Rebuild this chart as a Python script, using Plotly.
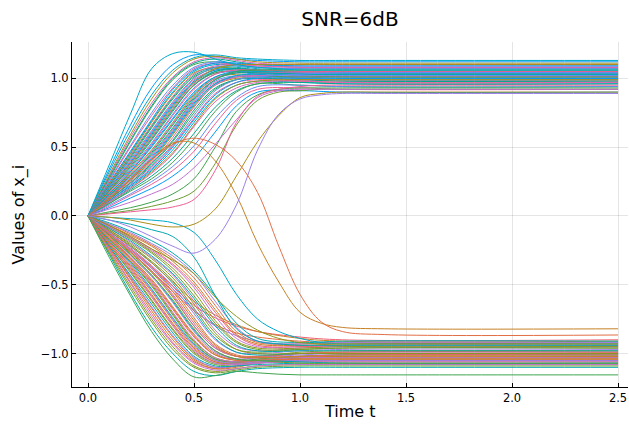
import plotly.graph_objects as go

# Time knots for the bulk trajectories and for the hand-traced individual ones
T_BULK = [0.0, 0.1, 0.2, 0.3, 0.4, 0.5, 0.6, 0.7, 0.8, 1.0, 1.2, 2.5]
T_FINE = [0.0, 0.1, 0.2, 0.3, 0.4, 0.5, 0.6, 0.7, 0.8, 0.9, 1.0, 1.1, 1.2, 1.4, 2.5]

# Trajectories converging to +1 (values at T_BULK)
UPPER_PATHS = [
    [0, .34, .66, .93, 1.10, 1.17, 1.16, 1.14, 1.13, 1.12, 1.12, 1.12],
    [0, .32, .62, .88, 1.06, 1.15, 1.17, 1.15, 1.14, 1.13, 1.13, 1.13],
    [0, .30, .59, .85, 1.04, 1.14, 1.16, 1.14, 1.12, 1.11, 1.11, 1.11],
    [0, .29, .57, .82, 1.01, 1.12, 1.15, 1.13, 1.11, 1.10, 1.10, 1.10],
    [0, .28, .55, .80, 1.00, 1.11, 1.14, 1.12, 1.10, 1.08, 1.08, 1.08],
    [0, .27, .54, .79, .99, 1.10, 1.12, 1.10, 1.08, 1.07, 1.07, 1.07],
    [0, .26, .51, .75, .95, 1.08, 1.12, 1.11, 1.10, 1.09, 1.09, 1.09],
    [0, .25, .50, .73, .93, 1.07, 1.11, 1.10, 1.09, 1.08, 1.08, 1.08],
    [0, .24, .47, .70, .92, 1.06, 1.11, 1.11, 1.10, 1.09, 1.09, 1.09],
    [0, .23, .46, .69, .90, 1.05, 1.10, 1.09, 1.07, 1.06, 1.06, 1.06],
    [0, .23, .45, .68, .89, 1.04, 1.08, 1.07, 1.05, 1.04, 1.04, 1.04],
    [0, .22, .44, .66, .87, 1.03, 1.09, 1.10, 1.09, 1.08, 1.08, 1.08],
    [0, .22, .43, .65, .86, 1.02, 1.08, 1.08, 1.06, 1.05, 1.05, 1.05],
    [0, .21, .42, .64, .85, 1.01, 1.07, 1.07, 1.05, 1.03, 1.03, 1.03],
    [0, .21, .41, .62, .83, 1.00, 1.08, 1.09, 1.08, 1.07, 1.07, 1.07],
    [0, .20, .40, .61, .82, .99, 1.06, 1.06, 1.04, 1.02, 1.02, 1.02],
    [0, .20, .39, .60, .81, .98, 1.06, 1.07, 1.06, 1.04, 1.04, 1.04],
    [0, .19, .38, .59, .80, .97, 1.05, 1.06, 1.05, 1.03, 1.03, 1.03],
    [0, .19, .38, .58, .79, .97, 1.07, 1.10, 1.10, 1.10, 1.10, 1.10],
    [0, .18, .37, .57, .78, .96, 1.04, 1.05, 1.03, 1.01, 1.01, 1.01],
    [0, .18, .36, .56, .77, .95, 1.05, 1.07, 1.06, 1.05, 1.05, 1.05],
    [0, .18, .35, .55, .76, .95, 1.04, 1.05, 1.04, 1.02, 1.01, 1.01],
    [0, .17, .34, .53, .74, .93, 1.03, 1.05, 1.04, 1.02, 1.02, 1.02],
    [0, .17, .33, .52, .73, .92, 1.03, 1.06, 1.06, 1.05, 1.05, 1.05],
    [0, .16, .32, .51, .71, .90, 1.01, 1.04, 1.03, 1.00, .99, .99],
    [0, .16, .32, .50, .70, .89, 1.01, 1.05, 1.05, 1.04, 1.04, 1.04],
    [0, .15, .31, .48, .68, .88, 1.00, 1.03, 1.02, 1.00, .99, .99],
    [0, .15, .30, .47, .67, .87, 1.00, 1.04, 1.04, 1.04, 1.04, 1.04],
    [0, .15, .29, .46, .66, .86, .99, 1.04, 1.04, 1.03, 1.03, 1.03],
    [0, .14, .29, .45, .64, .85, .99, 1.05, 1.06, 1.06, 1.06, 1.06],
    [0, .14, .28, .44, .63, .84, .98, 1.02, 1.02, 1.00, .99, .99],
    [0, .14, .27, .43, .62, .83, .97, 1.01, 1.01, .99, .98, .98],
    [0, .13, .27, .42, .61, .82, .96, 1.01, 1.02, 1.01, 1.00, 1.00],
    [0, .13, .26, .41, .60, .81, .96, 1.02, 1.03, 1.03, 1.03, 1.03],
    [0, .13, .26, .40, .59, .80, .95, 1.00, 1.00, .98, .97, .97],
    [0, .12, .25, .39, .57, .79, .95, 1.01, 1.02, 1.01, 1.01, 1.01],
    [0, .12, .24, .38, .55, .77, .93, .99, 1.00, .99, .98, .98],
    [0, .12, .24, .37, .54, .75, .92, .99, 1.01, 1.01, 1.01, 1.01],
    [0, .11, .23, .36, .52, .73, .91, .99, 1.01, 1.03, 1.04, 1.04],
    [0, .11, .22, .35, .51, .71, .89, .97, .99, .98, .97, .97],
    [0, .11, .22, .34, .50, .70, .88, .97, 1.00, 1.00, 1.00, 1.00],
    [0, .10, .21, .33, .48, .68, .86, .95, .98, .97, .96, .96],
    [0, .10, .20, .32, .46, .66, .85, .95, .98, .99, .99, .99],
    [0, .10, .20, .31, .45, .65, .83, .93, .97, .98, .97, .97],
    [0, .09, .19, .29, .42, .60, .79, .91, .96, .97, .96, .96],
    [0, .09, .18, .27, .39, .56, .76, .90, .96, .95, .94, .94],
    [0, .08, .16, .25, .36, .51, .71, .86, .94, .95, .94, .94],
    [0, .07, .15, .23, .33, .47, .67, .84, .92, .93, .92, .92],
    [0, .06, .13, .20, .29, .42, .61, .80, .90, .91, .90, .90],
]

# Trajectories converging to -1 (values at T_BULK)
LOWER_PATHS = [
    [0, -.28, -.56, -.81, -1.00, -1.13, -1.16, -1.13, -1.11, -1.10, -1.10, -1.10],
    [0, -.27, -.53, -.77, -.97, -1.10, -1.14, -1.12, -1.10, -1.09, -1.09, -1.09],
    [0, -.26, -.51, -.75, -.95, -1.09, -1.13, -1.11, -1.09, -1.08, -1.08, -1.08],
    [0, -.25, -.49, -.73, -.93, -1.07, -1.12, -1.11, -1.09, -1.08, -1.08, -1.08],
    [0, -.24, -.48, -.71, -.92, -1.06, -1.11, -1.09, -1.06, -1.05, -1.05, -1.05],
    [0, -.23, -.46, -.69, -.90, -1.05, -1.11, -1.10, -1.07, -1.06, -1.06, -1.06],
    [0, -.23, -.45, -.67, -.88, -1.04, -1.10, -1.09, -1.07, -1.05, -1.05, -1.05],
    [0, -.22, -.44, -.66, -.87, -1.03, -1.10, -1.09, -1.07, -1.05, -1.05, -1.05],
    [0, -.22, -.43, -.64, -.85, -1.02, -1.09, -1.09, -1.08, -1.07, -1.07, -1.07],
    [0, -.21, -.41, -.62, -.83, -1.00, -1.08, -1.08, -1.06, -1.04, -1.04, -1.04],
    [0, -.21, -.40, -.61, -.82, -.99, -1.07, -1.07, -1.05, -1.03, -1.03, -1.03],
    [0, -.20, -.39, -.59, -.80, -.98, -1.07, -1.08, -1.07, -1.06, -1.06, -1.06],
    [0, -.20, -.38, -.58, -.79, -.97, -1.06, -1.07, -1.05, -1.03, -1.02, -1.02],
    [0, -.19, -.37, -.57, -.78, -.96, -1.06, -1.07, -1.05, -1.03, -1.02, -1.02],
    [0, -.19, -.36, -.55, -.76, -.95, -1.05, -1.07, -1.06, -1.05, -1.05, -1.05],
    [0, -.18, -.35, -.54, -.75, -.94, -1.05, -1.07, -1.06, -1.05, -1.05, -1.05],
    [0, -.18, -.34, -.53, -.74, -.93, -1.04, -1.06, -1.04, -1.02, -1.01, -1.01],
    [0, -.17, -.33, -.51, -.72, -.92, -1.04, -1.06, -1.04, -1.02, -1.01, -1.01],
    [0, -.17, -.33, -.50, -.71, -.91, -1.03, -1.06, -1.05, -1.03, -1.03, -1.03],
    [0, -.16, -.32, -.49, -.70, -.90, -1.03, -1.06, -1.05, -1.03, -1.03, -1.03],
    [0, -.16, -.31, -.48, -.68, -.88, -1.01, -1.04, -1.03, -1.00, -.99, -.99],
    [0, -.15, -.31, -.47, -.67, -.87, -1.01, -1.05, -1.05, -1.04, -1.04, -1.04],
    [0, -.15, -.30, -.46, -.66, -.86, -1.00, -1.05, -1.05, -1.04, -1.04, -1.04],
    [0, -.14, -.29, -.44, -.63, -.84, -.99, -1.04, -1.03, -1.01, -1.00, -1.00],
    [0, -.14, -.28, -.43, -.62, -.83, -.98, -1.04, -1.05, -1.06, -1.07, -1.07],
    [0, -.14, -.28, -.43, -.61, -.82, -.98, -1.04, -1.05, -1.07, -1.07, -1.07],
    [0, -.13, -.27, -.41, -.59, -.80, -.96, -1.02, -1.02, -.99, -.98, -.98],
    [0, -.13, -.26, -.40, -.58, -.80, -.96, -1.02, -1.02, -1.00, -.99, -.99],
    [0, -.13, -.26, -.40, -.57, -.78, -.95, -1.02, -1.03, -1.02, -1.01, -1.01],
    [0, -.12, -.25, -.38, -.55, -.76, -.94, -1.02, -1.03, -1.02, -1.02, -1.02],
    [0, -.12, -.24, -.37, -.53, -.74, -.93, -1.01, -1.02, -1.00, -.99, -.99],
    [0, -.11, -.23, -.36, -.51, -.71, -.90, -.99, -1.00, -.98, -.97, -.97],
    [0, -.11, -.22, -.34, -.49, -.69, -.89, -.99, -1.01, -1.00, -1.00, -1.00],
    [0, -.10, -.21, -.33, -.47, -.67, -.87, -.97, -.99, -.97, -.96, -.96],
    [0, -.10, -.20, -.31, -.45, -.64, -.85, -.97, -1.00, -1.00, -1.00, -1.00],
    [0, -.09, -.19, -.30, -.43, -.62, -.83, -.95, -.98, -.96, -.95, -.95],
    [0, -.12, -.24, -.37, -.51, -.65, -.74, -.80, -.84, -.88, -.90, -.90],
    [0, -.11, -.22, -.34, -.48, -.62, -.72, -.79, -.84, -.89, -.91, -.91],
    [0, -.13, -.26, -.40, -.55, -.69, -.79, -.85, -.88, -.91, -.92, -.92],
    [0, -.12, -.25, -.38, -.53, -.68, -.80, -.87, -.91, -.94, -.95, -.95],
    [0, -.09, -.18, -.29, -.42, -.60, -.80, -.94, -.98, -.98, -.98, -.98],
    [0, -.08, -.17, -.27, -.40, -.58, -.78, -.92, -.97, -.97, -.96, -.96],
    [0, -.08, -.16, -.26, -.38, -.55, -.76, -.91, -.96, -.96, -.95, -.95],
    [0, -.08, -.16, -.25, -.36, -.52, -.73, -.89, -.95, -.95, -.94, -.94],
    [0, -.07, -.15, -.24, -.35, -.50, -.70, -.87, -.94, -.95, -.94, -.94],
    [0, -.07, -.14, -.22, -.33, -.48, -.68, -.86, -.93, -.94, -.93, -.93],
    [0, -.06, -.13, -.21, -.31, -.45, -.65, -.84, -.92, -.93, -.92, -.92],
    [0, -.06, -.12, -.20, -.29, -.42, -.62, -.81, -.91, -.93, -.92, -.92],
    [0, -.05, -.11, -.18, -.27, -.40, -.58, -.78, -.89, -.92, -.91, -.91],
]

# Individually traced trajectories (values at T_FINE)
CYAN_FAST = [0, .37, .74, 1.07, 1.18, 1.19, 1.14, 1.10, 1.08, 1.07, 1.06, 1.06, 1.06, 1.06, 1.06]
ORANGE_PEAK = [0, .12, .27, .41, .52, .565, .52, .40, .17, -.22, -.57, -.77, -.84, -.862, -.865]
BROWN_PEAK = [0, .12, .27, .41, .53, .53, .40, .15, -.20, -.48, -.70, -.78, -.81, -.82, -.82]
OLIVE_DIP = [0, -.01, -.03, -.06, -.08, -.06, .05, .29, .54, .73, .86, .89, .90, .90, .90]
PURPLE_DIP = [0, -.03, -.08, -.15, -.22, -.27, -.17, .08, .48, .74, .85, .88, .89, .89, .89]
PINK_SLOW = [0, .015, .03, .045, .065, .12, .33, .68, .87, .92, .94, .95, .95, .95, .95]
GREEN_SLOW_A = [0, .03, .06, .10, .16, .27, .50, .76, .88, .92, .93, .93, .93, .93, .93]
GREEN_SLOW_B = [0, .02, .04, .07, .11, .18, .38, .66, .84, .90, .91, .92, .92, .92, .92]
LILAC_SLOW = [0, .05, .10, .16, .23, .35, .52, .70, .86, .91, .92, .92, .92, .92, .92]
CYAN_SLOW_A = [0, -.01, -.02, -.03, -.05, -.12, -.32, -.57, -.75, -.84, -.89, -.92, -.93, -.93, -.93]
CYAN_SLOW_B = [0, -.03, -.06, -.10, -.15, -.30, -.58, -.82, -.91, -.93, -.94, -.94, -.94, -.94, -.94]
OLIVE_LATE = [0, -.07, -.15, -.24, -.32, -.42, -.59, -.73, -.83, -.89, -.92, -.93, -.93, -.93, -.93]
GREEN_LOW = [0, -.30, -.58, -.84, -1.04, -1.17, -1.16, -1.13, -1.14, -1.15, -1.155, -1.155, -1.155, -1.155, -1.155]

# Default Plots.jl colour cycle
PALETTE = ["#009BF9", "#E26F46", "#3EA44E", "#C271D2", "#AC8E18", "#00A9AF",
           "#ED5E93", "#C68125", "#00A98D", "#8E971E", "#00A8C9", "#9B7FE8",
           "#618DF7", "#F06073", "#DD65B7", "#6B9E32"]

fig = go.Figure()


def add_line(t, v, color):
    fig.add_trace(go.Scatter(
        x=t, y=v, mode="lines",
        line=dict(color=color, width=1, shape="spline", smoothing=1.0),
        showlegend=False, hoverinfo="skip",
    ))


# interleave both groups so the colour cycle mixes across them
bulk = []
for i in range(max(len(UPPER_PATHS), len(LOWER_PATHS))):
    if i < len(UPPER_PATHS):
        bulk.append(UPPER_PATHS[i])
    if i < len(LOWER_PATHS):
        bulk.append(LOWER_PATHS[i])
for k, path in enumerate(bulk):
    add_line(T_BULK, path, PALETTE[(k * 5) % len(PALETTE)])

traced = [
    (GREEN_SLOW_A, "#3EA44E"), (GREEN_SLOW_B, "#6B9E32"), (LILAC_SLOW, "#C271D2"),
    (PINK_SLOW, "#ED5E93"), (CYAN_SLOW_A, "#00A8C9"), (CYAN_SLOW_B, "#00A9AF"),
    (OLIVE_LATE, "#8E971E"), (GREEN_LOW, "#3EA44E"), (CYAN_FAST, "#00A8C9"),
    (BROWN_PEAK, "#C68125"), (ORANGE_PEAK, "#E26F46"),
    (OLIVE_DIP, "#AC8E18"), (PURPLE_DIP, "#9B7FE8"),
]
for path, color in traced:
    add_line(T_FINE, path, color)

FONT = "DejaVu Sans"
axis_common = dict(
    showgrid=True, gridcolor="rgba(0,0,0,0.1)", gridwidth=1,
    showline=True, linecolor="black", linewidth=1,
    ticks="inside", ticklen=4, tickcolor="black", tickwidth=1,
    zeroline=False, mirror=False, tickformat=".1f",
    tickfont=dict(family=FONT, size=11.5, color="black"),
)

fig.update_layout(
    width=629, height=427,
    margin=dict(l=72, r=1, t=42, b=40),
    paper_bgcolor="white", plot_bgcolor="white",
    title=dict(text="SNR=6dB", x=0.5, xref="paper", xanchor="center",
               y=1 - 19 / 427, yref="container", yanchor="middle",
               font=dict(family=FONT, size=20, color="black")),
    xaxis=dict(range=[-0.0755, 2.547], tickvals=[0, 0.5, 1.0, 1.5, 2.0, 2.5],
               **axis_common),
    yaxis=dict(range=[-1.243, 1.264], tickvals=[-1.0, -0.5, 0.0, 0.5, 1.0],
               **axis_common),
    annotations=[
        dict(text="Time t", xref="paper", yref="paper", x=0.5, y=-24 / 345,
             xanchor="center", yanchor="middle", showarrow=False,
             font=dict(family=FONT, size=16, color="black")),
        dict(text="Values of x_i", xref="paper", yref="paper", x=-54 / 556, y=0.5,
             xanchor="center", yanchor="middle", textangle=-90, showarrow=False,
             font=dict(family=FONT, size=16, color="black")),
    ],
)

fig.write_html("out.html")
